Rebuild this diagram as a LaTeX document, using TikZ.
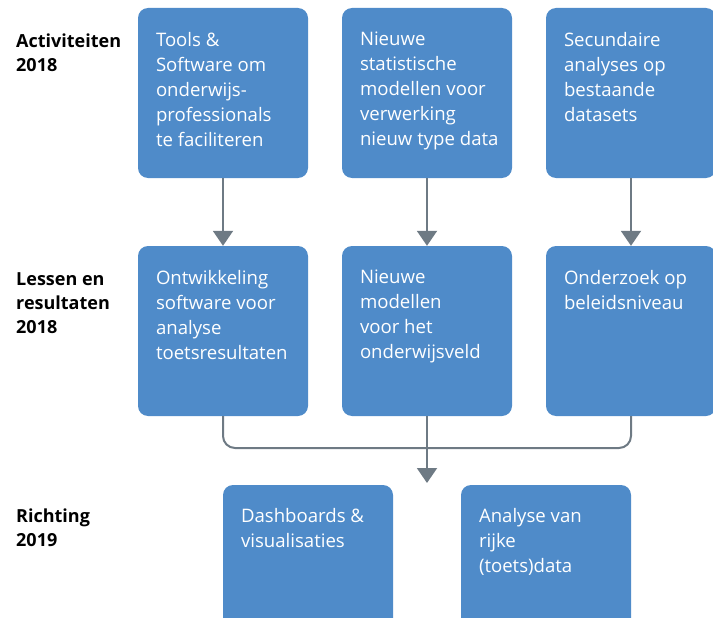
\documentclass[tikz,border=0pt]{standalone}
\usepackage{fontspec}
\setmainfont{Open Sans}
\usetikzlibrary{arrows.meta}
\definecolor{blokblauw}{HTML}{4F8BC9}
\definecolor{lijngrijs}{HTML}{6E7A84}
\tikzset{
  blok/.style={draw=none, fill=blokblauw, rounded corners=10pt, minimum width=170pt, minimum height=170pt, inner sep=0pt},
  tekst/.style={anchor=north west, inner sep=0pt, text=white, align=left, font=\fontsize{18.6}{25}\selectfont},
  rij/.style={anchor=north west, inner sep=0pt, align=left, font=\bfseries\fontsize{18}{24}\selectfont},
  lijn/.style={draw=lijngrijs, line width=2pt},
  pijl/.style={lijn, -{Triangle[width=20pt,length=15pt]}},
}
\begin{document}
\begin{tikzpicture}[x=1pt,y=-1pt]
\useasboundingbox (0,0) rectangle (713,618);
%%
\node (rij_0) at (16,34) [rij] {Activiteiten\\2018};
\node (rij_1) at (16,272) [rij] {Lessen en\\resultaten\\2018};
\node (rij_2) at (16,509) [rij] {Richting\\2019};
%
\node (act_1) at (223,93) [blok] {};
\node (act_2) at (427,93) [blok] {};
\node (act_3) at (631,93) [blok] {};
\node (les_1) at (223,331) [blok] {};
\node (les_2) at (427,331) [blok] {};
\node (les_3) at (631,331) [blok] {};
\node (richt_1) at (308,570) [blok] {};
\node (richt_2) at (546,570) [blok] {};
%
\node (act_1_tekst) at ([shift={(18,24)}]act_1.north west) [tekst] {Tools \&\\Software om\\onderwijs-\\professionals\\te faciliteren};
\node (act_2_tekst) at ([shift={(18,24)}]act_2.north west) [tekst] {Nieuwe\\statistische\\modellen voor\\verwerking\\nieuw type data};
\node (act_3_tekst) at ([shift={(18,24)}]act_3.north west) [tekst] {Secundaire\\analyses op\\bestaande\\datasets};
\node (les_1_tekst) at ([shift={(18,24)}]les_1.north west) [tekst] {Ontwikkeling\\software voor\\analyse\\toetsresultaten};
\node (les_2_tekst) at ([shift={(18,24)}]les_2.north west) [tekst] {Nieuwe\\modellen\\voor het\\onderwijsveld};
\node (les_3_tekst) at ([shift={(18,24)}]les_3.north west) [tekst] {Onderzoek op\\beleidsniveau};
\node (richt_1_tekst) at ([shift={(18,23)}]richt_1.north west) [tekst] {Dashboards \&\\visualisaties};
\node (richt_2_tekst) at ([shift={(18,23)}]richt_2.north west) [tekst] {Analyse van\\rijke\\(toets)data};
%
\coordinate (samen) at (427,448);
\coordinate (pijlpunt) at (427,483);
\draw [pijl] (act_1) -- (les_1);
\draw [pijl] (act_2) -- (les_2);
\draw [pijl] (act_3) -- (les_3);
\draw [lijn, rounded corners=12pt] (les_1.south) |- (samen) -| (les_3.south);
\draw [pijl] (les_2.south) -- (pijlpunt);
%
\end{tikzpicture}
\end{document}
